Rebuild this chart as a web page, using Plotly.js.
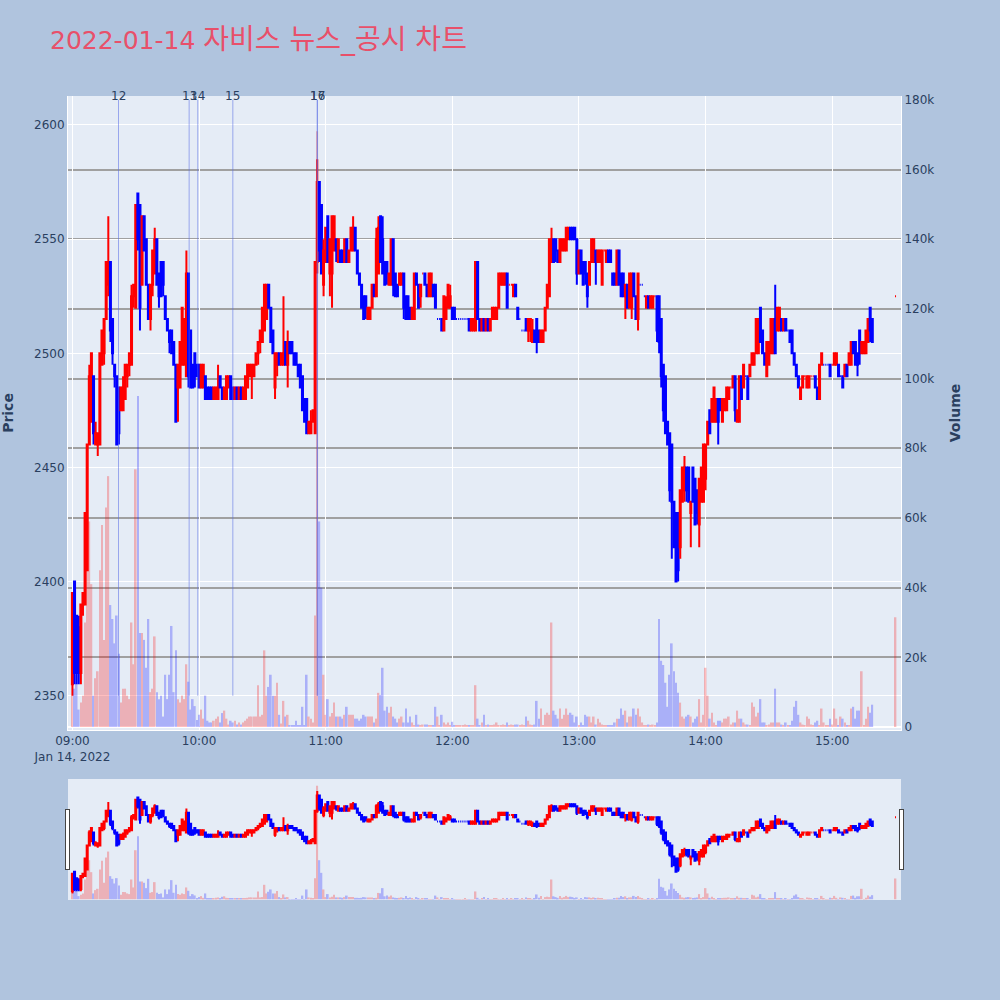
<!DOCTYPE html>
<html>
<head>
<meta charset="utf-8">
<script src="https://cdn.plot.ly/plotly-3.0.1.min.js"></script>
<style>html,body{margin:0;padding:0;background:#B0C4DE;}</style>
</head>
<body>
<div id="chart" style="width:1000px;height:1000px;"></div>
<script>
// 1-minute candles 09:00..15:19 plus the 15:30 closing auction
const openP = [
2355,2400,2385,2380,2360,2390,2390,2405,2460,2470,
2490,2460,2460,2460,2495,2500,2515,2530,2540,2515,
2495,2490,2485,2475,2475,2480,2490,2495,2495,2525,
2520,2570,2565,2530,2560,2550,2530,2515,2530,2535,
2550,2535,2540,2540,2525,2515,2510,2510,2505,2495,
2485,2485,2495,2495,2490,2535,2510,2495,2500,2495,
2495,2485,2485,2490,2485,2485,2485,2480,2480,2480,
2490,2485,2480,2480,2485,2490,2485,2480,2485,2480,
2485,2480,2480,2485,2490,2490,2490,2495,2500,2505,
2505,2510,2515,2530,2520,2510,2485,2495,2500,2495,
2495,2505,2495,2505,2505,2500,2500,2495,2495,2490,
2480,2480,2465,2465,2470,2465,2540,2575,2565,2530,
2540,2560,2535,2535,2545,2550,2540,2545,2545,2540,
2550,2540,2545,2545,2555,2545,2535,2530,2525,2525,
2515,2515,2520,2530,2525,2535,2560,2550,2540,2540,
2530,2530,2550,2535,2530,2530,2530,2535,2525,2525,
2520,2515,2515,2535,2530,2525,2535,2535,2530,2525,
2525,2530,2530,2515,2515,2515,2510,2515,2520,2520,
2520,2520,2515,2515,2515,2515,2515,2515,2515,2510,
2510,2510,2540,2515,2510,2515,2510,2515,2510,2515,
2515,2515,2520,2530,2530,2530,2535,2530,2530,2525,
2530,2520,2515,2510,2510,2515,2510,2510,2505,2510,
2515,2510,2505,2505,2510,2520,2525,2540,2550,2550,
2545,2540,2545,2545,2545,2550,2555,2555,2555,2550,
2535,2545,2540,2540,2535,2530,2540,2540,2545,2540,
2540,2530,2545,2540,2545,2545,2535,2535,2530,2545,
2535,2535,2525,2530,2520,2520,2535,2525,2515,2530,
2530,2525,2520,2525,2520,2520,2525,2525,2525,2515,
2495,2490,2470,2465,2460,2435,2430,2430,2415,2435,
2440,2450,2450,2430,2450,2445,2440,2425,2435,2435,
2445,2460,2475,2470,2470,2470,2480,2480,2470,2475,
2475,2480,2485,2485,2490,2470,2470,2490,2485,2490,
2490,2490,2495,2495,2500,2500,2520,2510,2500,2490,
2495,2500,2500,2515,2510,2510,2515,2510,2515,2510,
2510,2510,2500,2495,2490,2480,2485,2490,2485,2485,
2490,2490,2490,2485,2480,2495,2495,2495,2495,2495,
2495,2495,2495,2495,2490,2490,2490,2495,2495,2495,
2505,2505,2500,2510,2500,2500,2500,2505,2520,2515,
2525];
const highP = [
2395,2400,2385,2385,2390,2395,2430,2460,2495,2500,
2490,2470,2465,2500,2510,2515,2540,2560,2540,2515,
2495,2490,2485,2485,2490,2495,2495,2500,2530,2530,
2565,2570,2565,2560,2560,2550,2530,2530,2545,2555,
2550,2535,2540,2540,2525,2515,2510,2510,2505,2495,
2495,2505,2520,2515,2545,2535,2510,2495,2500,2495,
2495,2495,2495,2490,2485,2485,2485,2485,2485,2495,
2490,2485,2485,2490,2490,2490,2485,2485,2485,2485,
2485,2485,2490,2495,2495,2495,2495,2500,2505,2510,
2520,2530,2530,2530,2520,2510,2500,2500,2500,2500,
2525,2505,2510,2505,2505,2500,2500,2495,2495,2490,
2480,2480,2470,2475,2475,2540,2585,2575,2565,2550,
2555,2560,2550,2560,2560,2550,2550,2545,2545,2550,
2550,2545,2555,2560,2555,2545,2535,2530,2525,2525,
2520,2520,2530,2530,2555,2560,2560,2560,2540,2540,
2535,2550,2550,2535,2530,2535,2535,2535,2525,2525,
2520,2520,2535,2535,2530,2530,2535,2535,2530,2535,
2535,2530,2530,2515,2515,2515,2525,2525,2530,2530,
2520,2520,2515,2515,2515,2515,2515,2515,2515,2515,
2515,2540,2540,2515,2515,2515,2515,2515,2515,2520,
2520,2520,2535,2535,2535,2535,2535,2530,2530,2530,
2530,2520,2515,2510,2510,2515,2515,2515,2515,2510,
2515,2510,2510,2510,2520,2530,2550,2555,2550,2550,
2545,2550,2550,2550,2555,2555,2555,2555,2555,2550,
2545,2545,2540,2540,2535,2540,2550,2550,2545,2545,
2545,2545,2545,2545,2545,2545,2535,2535,2545,2545,
2535,2535,2530,2530,2535,2535,2535,2525,2535,2530,
2530,2525,2525,2525,2525,2525,2525,2525,2525,2515,
2495,2490,2470,2465,2460,2435,2430,2430,2440,2450,
2455,2450,2450,2435,2450,2445,2440,2445,2450,2460,
2460,2470,2475,2480,2485,2480,2480,2480,2480,2480,
2485,2485,2485,2490,2490,2475,2490,2490,2495,2490,
2490,2495,2500,2500,2515,2515,2520,2510,2500,2505,
2505,2515,2515,2530,2520,2520,2515,2515,2515,2510,
2510,2510,2500,2495,2490,2485,2490,2490,2490,2490,
2490,2490,2490,2485,2495,2500,2495,2495,2495,2495,
2495,2500,2500,2495,2490,2490,2495,2495,2500,2505,
2505,2505,2500,2510,2505,2505,2510,2515,2520,2515,
2525];
const lowP = [
2350,2355,2355,2355,2355,2385,2390,2405,2460,2470,
2460,2460,2455,2460,2495,2495,2515,2525,2505,2495,
2485,2460,2460,2475,2475,2480,2485,2490,2495,2520,
2520,2545,2510,2530,2545,2530,2515,2510,2525,2535,
2530,2520,2525,2525,2515,2510,2500,2500,2495,2470,
2470,2485,2495,2495,2490,2485,2485,2485,2485,2490,
2485,2485,2485,2480,2480,2480,2480,2480,2480,2480,
2485,2480,2480,2480,2485,2480,2480,2480,2480,2480,
2480,2480,2480,2485,2490,2480,2490,2495,2495,2500,
2505,2510,2515,2520,2505,2500,2480,2490,2495,2495,
2495,2495,2485,2500,2500,2495,2495,2490,2485,2475,
2470,2465,2465,2465,2470,2465,2535,2540,2535,2525,
2540,2540,2525,2520,2545,2540,2540,2540,2540,2540,
2540,2540,2545,2545,2545,2535,2530,2520,2515,2515,
2515,2515,2520,2525,2525,2535,2540,2535,2530,2530,
2530,2530,2525,2525,2525,2530,2530,2515,2515,2515,
2515,2515,2515,2530,2520,2520,2535,2530,2525,2525,
2525,2525,2520,2515,2515,2510,2510,2515,2520,2520,
2515,2515,2515,2515,2515,2515,2515,2515,2510,2510,
2510,2510,2515,2510,2510,2510,2510,2510,2510,2515,
2515,2515,2520,2530,2530,2530,2520,2530,2530,2525,
2525,2515,2515,2510,2510,2510,2505,2505,2505,2505,
2500,2505,2505,2505,2510,2520,2525,2540,2540,2540,
2540,2540,2545,2545,2545,2550,2550,2550,2550,2530,
2535,2535,2530,2530,2520,2530,2540,2540,2530,2540,
2540,2530,2545,2540,2540,2540,2530,2530,2530,2530,
2525,2525,2515,2520,2520,2515,2525,2515,2510,2530,
2530,2525,2520,2520,2520,2520,2525,2505,2500,2485,
2470,2465,2460,2435,2410,2415,2400,2400,2410,2435,
2435,2435,2435,2415,2435,2425,2425,2415,2435,2435,
2440,2460,2465,2470,2470,2470,2460,2475,2470,2475,
2475,2480,2485,2485,2470,2470,2470,2480,2485,2490,
2480,2490,2495,2495,2500,2500,2505,2500,2495,2490,
2495,2500,2500,2500,2510,2510,2510,2510,2510,2510,
2505,2500,2495,2490,2485,2480,2485,2490,2485,2485,
2490,2490,2485,2480,2480,2495,2495,2495,2495,2490,
2495,2495,2495,2490,2490,2485,2490,2490,2495,2495,
2500,2495,2490,2495,2500,2500,2500,2505,2505,2505,
2525];
const closeP = [
2395,2360,2360,2360,2390,2395,2430,2460,2490,2500,
2465,2465,2465,2500,2510,2515,2540,2540,2510,2500,
2490,2460,2465,2485,2485,2495,2495,2500,2525,2530,
2565,2550,2520,2560,2545,2530,2515,2530,2545,2550,
2530,2525,2525,2530,2515,2510,2505,2500,2495,2470,
2495,2505,2520,2515,2535,2490,2485,2485,2490,2490,
2485,2495,2495,2480,2480,2480,2480,2485,2485,2485,
2485,2480,2485,2490,2490,2480,2480,2485,2480,2485,
2480,2485,2490,2495,2495,2495,2495,2500,2505,2510,
2520,2530,2530,2520,2505,2500,2500,2500,2495,2500,
2500,2495,2505,2500,2500,2495,2495,2490,2485,2475,
2470,2465,2470,2470,2475,2540,2575,2545,2535,2545,
2555,2540,2550,2560,2560,2545,2550,2540,2540,2550,
2540,2545,2555,2555,2545,2535,2530,2520,2515,2520,
2520,2520,2530,2525,2550,2555,2540,2535,2530,2535,
2535,2550,2530,2525,2525,2535,2535,2520,2515,2515,
2515,2520,2535,2530,2520,2530,2535,2530,2525,2535,
2535,2525,2520,2515,2515,2510,2525,2520,2530,2525,
2515,2515,2515,2515,2515,2515,2515,2515,2510,2515,
2515,2540,2515,2510,2515,2510,2515,2510,2515,2520,
2520,2520,2535,2535,2535,2535,2520,2530,2530,2530,
2525,2515,2515,2510,2510,2510,2515,2515,2510,2505,
2505,2505,2510,2510,2520,2530,2550,2550,2540,2545,
2540,2550,2550,2550,2555,2555,2550,2550,2550,2535,
2545,2535,2530,2535,2525,2540,2550,2550,2540,2545,
2545,2545,2545,2545,2540,2540,2530,2530,2545,2530,
2525,2525,2530,2520,2535,2535,2525,2515,2535,2530,
2530,2525,2525,2520,2525,2525,2525,2510,2505,2490,
2475,2465,2460,2440,2435,2415,2400,2405,2440,2450,
2450,2440,2435,2435,2435,2425,2430,2445,2450,2460,
2460,2470,2465,2480,2485,2480,2470,2475,2480,2480,
2485,2485,2485,2490,2475,2475,2490,2480,2495,2490,
2480,2495,2500,2500,2515,2515,2505,2500,2495,2505,
2505,2515,2515,2500,2520,2520,2510,2515,2510,2510,
2505,2500,2495,2490,2485,2485,2490,2490,2490,2490,
2490,2490,2485,2480,2495,2500,2495,2495,2495,2490,
2495,2500,2500,2490,2490,2485,2495,2490,2500,2505,
2500,2495,2495,2500,2505,2505,2510,2515,2510,2505,
2525];
const volume = [
9000,11000,15000,5000,7000,9000,30000,61000,59000,41000,
9000,14000,16000,45000,58000,25000,63000,72000,35000,31000,
24000,32000,21000,7000,11000,11000,9000,8000,30000,18000,
74000,95000,27000,27000,25000,17000,31000,10000,11000,26000,
10000,8000,9000,3000,15000,8000,15000,29000,10000,22000,
8000,7000,9000,8000,18000,13000,5000,8000,6000,2000,
3500,5000,2400,9000,1800,1300,1300,1800,2400,3000,
1300,4000,4700,2400,700,1800,1300,1800,700,1300,
700,1300,1800,2400,3000,3000,3000,3000,12000,3000,
3500,22000,9000,11500,15000,9000,9000,12700,3500,1000,
7500,3000,3500,500,500,500,1800,500,500,5800,
500,15000,3000,2400,1300,32000,171000,59000,40000,15000,
3500,8000,3000,4000,7000,3000,3000,3000,2400,3500,
5800,3500,3500,3500,2400,2400,1800,2400,3500,3000,
3000,3000,3000,1300,2400,9800,9200,17000,4700,5800,
4100,5800,3000,2400,1300,2400,3000,1300,5300,1300,
3000,1300,500,3500,700,500,700,700,700,500,
500,500,5800,3000,500,3500,1300,700,1300,500,
1500,300,300,300,300,300,700,300,300,300,
300,12000,2400,500,1300,3500,500,700,300,300,
700,1300,300,300,700,300,1300,300,700,300,
700,700,300,700,300,3000,1800,700,300,700,
7500,2400,5300,300,3500,4100,3500,30000,4700,3500,
2400,5300,2400,3500,5300,3500,4100,3500,1300,3000,
500,1300,500,3500,3000,3000,1300,3000,700,2400,
1300,700,300,300,300,300,300,1300,2400,2400,
5300,3500,4700,1300,3000,3000,5300,3500,5300,3000,
1300,300,300,700,300,700,300,1300,31000,19000,
17800,12700,5800,15000,24000,16000,12700,9800,7000,3000,
2400,3000,3500,3000,1300,2400,3000,8000,1300,3500,
17000,9000,2400,4100,1300,500,1800,1800,1300,2400,
2400,3000,700,1300,1300,4700,2400,2400,1300,700,
700,300,7000,5800,3000,4100,8000,1300,1300,300,
700,1300,1300,11000,1300,1300,700,300,1300,300,
300,1800,5800,7500,3500,1300,700,300,3000,2400,
700,300,1300,1800,300,5300,1300,300,300,2400,
700,5300,2400,300,3000,2400,1300,300,300,5300,
5800,2400,4700,4700,16000,300,2400,5800,4100,6400,
31500];

// news / disclosure markers
const newsTimes = ['2022-01-14 09:21:50','2022-01-14 09:55:18','2022-01-14 09:59:24',
                   '2022-01-14 10:16:00','2022-01-14 10:56:00','2022-01-14 10:56:04'];
const newsLabels = ['12','13','14','15','16','17'];

// volume axis gridline values (all ticks except the top one)
const volGridVals = [20000,40000,60000,80000,100000,120000,140000,160000];

// timestamps: one per minute from 09:00, last bar is the 15:30 close
function stamp(m){
  const h = 9 + Math.floor(m/60), mm = m%60;
  return '2022-01-14 ' + String(h).padStart(2,'0') + ':' + String(mm).padStart(2,'0') + ':00';
}
const times = [];
for (let i = 0; i < openP.length - 1; i++) times.push(stamp(i));
times.push('2022-01-14 15:30:00');

const volColors = closeP.map((c,i) => c >= openP[i] ? 'red' : 'blue');

const candle = {
  type:'candlestick', x:times, open:openP, high:highP, low:lowP, close:closeP,
  xaxis:'x', yaxis:'y', name:'Price',
  increasing:{line:{color:'red', width:2}, fillcolor:'red'},
  decreasing:{line:{color:'blue', width:2}, fillcolor:'blue'},
  showlegend:false
};
const bars = {
  type:'bar', x:times, y:volume, xaxis:'x', yaxis:'y2', name:'Volume',
  marker:{color:volColors, line:{width:0}}, opacity:0.25, showlegend:false
};

const xRange = ['2022-01-14 08:57:54','2022-01-14 15:32:36'];

const shapes = newsTimes.map(t => ({
  type:'line', xref:'x', yref:'y', x0:t, x1:t, y0:2350, y1:2611,
  line:{color:'rgba(90,110,230,0.55)', width:1}
}));
const annotations = newsTimes.map((t,i) => ({
  x:t, xref:'x', y:1, yref:'paper', yanchor:'middle', xanchor:'center',
  text:newsLabels[i], showarrow:false, font:{size:12, color:'#2a3f5f'}
}));

const layout = {
  width:1000, height:1000,
  paper_bgcolor:'#B0C4DE', plot_bgcolor:'#E5ECF6',
  font:{family:'"DejaVu Sans", "Noto Sans CJK KR", sans-serif', size:12, color:'#2a3f5f'},
  title:{text:'2022-01-14 <span style="font-size:28px">자비스 뉴스_공시 차트</span>',
         x:0.05, xanchor:'left', y:0.96, yanchor:'middle',
         font:{size:25, color:'#E8506A'}},
  margin:{l:68, r:99, t:96, b:100},
  showlegend:false,
  bargap:0.2,
  xaxis:{type:'date', range:xRange, gridcolor:'white', linecolor:'white', zeroline:false, ticks:'',
         rangeslider:{visible:true, thickness:0.15, bgcolor:'#E5ECF6', range:xRange,
                      yaxis:{rangemode:'match'}, yaxis2:{rangemode:'match'}}},
  yaxis:{title:{text:'Price', font:{size:14, weight:'bold'}, standoff:20}, range:[2335, 2612.7],
         gridcolor:'white', zeroline:false, ticks:'', linecolor:'white'},
  yaxis2:{title:{text:'Volume', font:{size:14, weight:'bold'}, standoff:16}, overlaying:'y', side:'right',
          range:[-860, 181100], dtick:20000, showgrid:false,
          minor:{tickvals:volGridVals, showgrid:true, gridcolor:'#A0A0A0', gridwidth:2, ticks:''},
          zeroline:true, zerolinecolor:'white', zerolinewidth:2, ticks:'', linecolor:'white'},
  shapes:shapes, annotations:annotations
};

Plotly.newPlot('chart', [candle, bars], layout, {displayModeBar:false});
</script>
</body>
</html>
